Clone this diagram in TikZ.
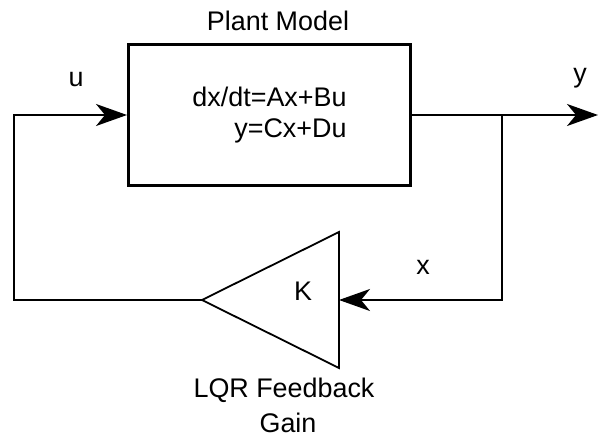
\documentclass[tikz,border=0pt]{standalone}
\usepackage{fontspec}
\setmainfont{Liberation Sans}
\usetikzlibrary{arrows.meta}
\begin{document}
\begin{tikzpicture}[
x=1bp, y=-1bp,
>={Stealth[length=31bp,width=22bp,inset=9bp]},
every node/.style={font=\fontsize{27}{31}\selectfont},
plantbox/.style={draw, line width=3bp, minimum width=282bp, minimum height=141bp, inner sep=0pt, align=right},
sigline/.style={draw, line width=1.8bp},
flow/.style={->, line width=1.8bp},
gainshape/.style={draw, line width=1.8bp, line join=miter},
lbl/.style={inner sep=0pt, anchor=base}
]
\useasboundingbox (0,0) rectangle (603,437);

% Plant
\node[plantbox] (plant) at (269.5,115) {dx/dt=Ax+Bu\\y=Cx+Du};
\node[lbl] (plantlbl) at (278,31) {Plant Model};

% Gain triangle
\coordinate (gtip) at (202,300);
\coordinate (gin) at (339,300);
\draw[gainshape] (339,232) -- (gtip) -- (339,368) -- cycle;
\node[lbl] (klbl) at (303,301) {K};
\node[lbl] (lqrlbl) at (284,397) {LQR Feedback};
\node[lbl] (gainlbl) at (288,432) {Gain};

% Corners and ends
\coordinate (cornerL) at (14,300);
\coordinate (branch) at (502,115);
\coordinate (yout) at (598,115);

% Signals
\draw[flow] (gtip) -- (cornerL) |- (plant.west);
\draw[flow] (plant.east) -- (yout);
\draw[flow] (branch) |- (gin);

\node[lbl] (ulbl) at (76,87) {u};
\node[lbl] (ylbl) at (580,83) {y};
\node[lbl] (xlbl) at (423,275) {x};

\end{tikzpicture}
\end{document}
